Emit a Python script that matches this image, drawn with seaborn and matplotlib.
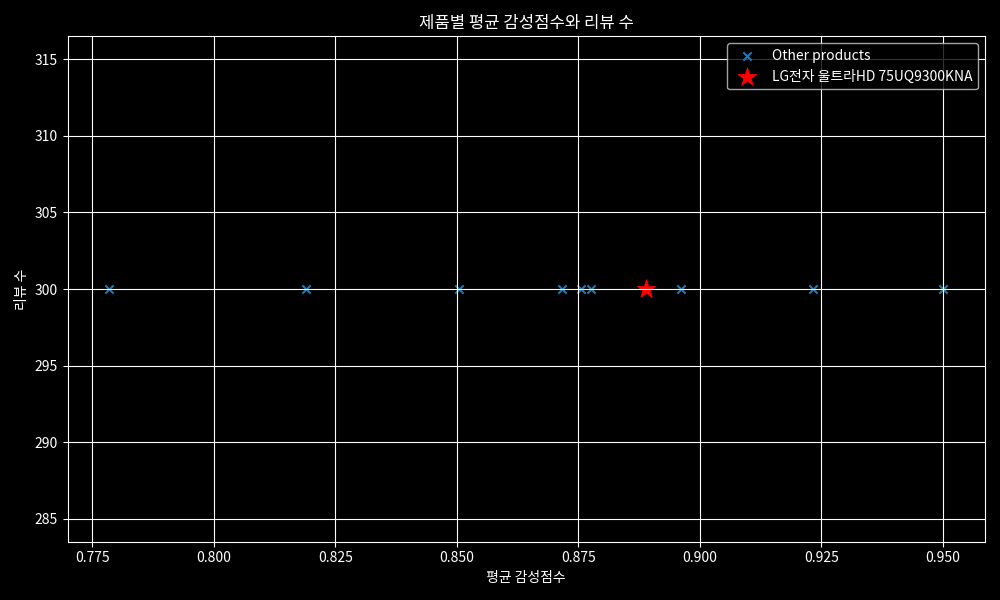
import matplotlib
matplotlib.use("Agg")
import matplotlib.pyplot as plt
import seaborn as sns
import pandas as pd

other_scores = [0.7785, 0.8189, 0.8504, 0.8716, 0.8755, 0.8777, 0.8961, 0.9233, 0.9501]
other_reviews = [300, 300, 300, 300, 300, 300, 300, 300, 300]
target_name = "LG전자 울트라HD 75UQ9300KNA"
target_score = [0.8889]
target_reviews = [300]

plt.style.use("dark_background")
plt.rcParams['font.family'] = ['Noto Sans CJK KR', 'DejaVu Sans']
plt.rcParams['axes.unicode_minus'] = False

fig, ax = plt.subplots(figsize=(10, 6), dpi=100)
df_o = pd.DataFrame({"score": other_scores, "reviews": other_reviews})
df_t = pd.DataFrame({"score": target_score, "reviews": target_reviews})

sns.scatterplot(data=df_o, x="score", y="reviews", marker="x", color="#1f77b4",
                s=36, linewidth=1.5, label="Other products", ax=ax)
sns.scatterplot(data=df_t, x="score", y="reviews", marker="*", color="red",
                s=200, edgecolor="red", linewidth=0.5, label=target_name, ax=ax)

ax.set_title("제품별 평균 감성점수와 리뷰 수")
ax.set_xlabel("평균 감성점수")
ax.set_ylabel("리뷰 수")
ax.grid(True)
ax.legend(loc="upper right")
fig.tight_layout()
fig.savefig("out.png", dpi=100)
